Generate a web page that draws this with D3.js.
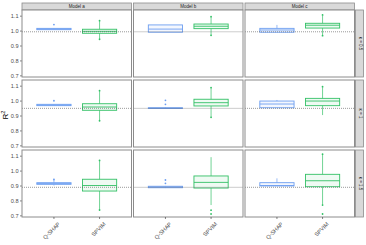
<!DOCTYPE html>
<html>
<head>
<meta charset="utf-8">
<script src="https://cdn.jsdelivr.net/npm/d3@7"></script>
<style>
  body { margin: 0; background: #fff; }
  svg text { font-family: "Liberation Sans", Arial, sans-serif; }
</style>
</head>
<body>
<svg id="chart" width="366" height="245"></svg>
<script>
const methods = ["Q-SHAP", "SPVIM"];
const models = ["Model a", "Model b", "Model c"];
const rowLabels = ["κ = 0.5", "κ = 1", "κ = 1.5"];
const yTicks = [0.7, 0.8, 0.9, 1.0, 1.1];
const refLines = [0.992, 0.948, 0.888];

// [lower whisker, q1, median, q3, upper whisker], rows x cols
const qshapStats = [
  [[1.004, 1.006, 1.010, 1.015, 1.017], [0.989, 0.989, 1.010, 1.038, 1.038], [0.989, 0.989, 1.004, 1.015, 1.038]],
  [[0.964, 0.966, 0.970, 0.975, 0.977], [0.946, 0.947, 0.949, 0.952, 0.954], [0.952, 0.952, 0.977, 0.997, 1.004]],
  [[0.900, 0.908, 0.913, 0.919, 0.948], [0.883, 0.885, 0.890, 0.895, 0.897], [0.897, 0.897, 0.900, 0.919, 0.948]]
];
const spvimStats = [
  [[0.945, 0.982, 0.995, 1.009, 1.062], [0.970, 1.013, 1.029, 1.044, 1.090], [0.968, 1.017, 1.036, 1.049, 1.102]],
  [[0.868, 0.935, 0.957, 0.979, 1.062], [0.890, 0.964, 0.986, 1.009, 1.085], [0.903, 0.966, 0.997, 1.015, 1.090]],
  [[0.740, 0.863, 0.900, 0.942, 1.068], [0.769, 0.883, 0.921, 0.964, 1.090], [0.769, 0.892, 0.932, 0.975, 1.105]]
];
const qshapOutliers = [
  [[1.040], [], []],
  [[0.999], [1.002, 0.975], []],
  [[0.940], [0.937, 0.915], []]
];
const spvimOutliers = [
  [[1.066, 0.942], [1.093, 0.968], [1.105, 0.966]],
  [[1.066, 0.865], [1.087, 0.888], [1.093]],
  [[1.068, 0.736], [0.735, 0.709], [1.110, 0.769, 0.709]]
];

const colors = { "Q-SHAP": "#6d9ef0", "SPVIM": "#33c066" };

const svg = d3.select("#chart");
const left = 22, pw = 109.5, gap = 2;
const rowTops = [10, 80, 150], ph = 67;
const grey = "#8c8c8c";

const y = d3.scaleLinear().domain([0.689, 1.138]).range([ph, 0]);
const x = d3.scaleBand().domain(methods).range([0, pw]).paddingOuter(0.2).paddingInner(0);
const boxW = x.bandwidth() * 0.75;

// top strips
models.forEach((m, c) => {
  const gx = left + c * (pw + gap);
  svg.append("rect").attr("x", gx).attr("y", 3).attr("width", pw).attr("height", 7)
    .attr("fill", "#d9d9d9").attr("stroke", grey).attr("stroke-width", 0.8);
  svg.append("text").attr("x", gx + pw / 2).attr("y", 8.3).attr("text-anchor", "middle")
    .attr("font-size", 4.5).attr("fill", "#1a1a1a").text(m);
});

rowTops.forEach((top, r) => {
  // right strip
  const sx = left + 3 * pw + 2 * gap + 1;
  svg.append("rect").attr("x", sx).attr("y", top).attr("width", 8).attr("height", ph)
    .attr("fill", "#d9d9d9").attr("stroke", grey).attr("stroke-width", 0.8);
  svg.append("text").attr("transform", `translate(${sx + 3},${top + ph / 2}) rotate(90)`)
    .attr("text-anchor", "middle").attr("font-size", 4.5).attr("fill", "#1a1a1a").text(rowLabels[r]);

  // y axis
  const ya = svg.append("g").attr("transform", `translate(${left},${top})`)
    .call(d3.axisLeft(y).tickValues(yTicks).tickFormat(d3.format(".1f")).tickSize(2).tickPadding(1.5));
  ya.select(".domain").remove();
  ya.selectAll("line").attr("stroke", "#333").attr("stroke-width", 0.6);
  ya.selectAll("text").attr("font-size", 5.6).attr("fill", "#4d4d4d").attr("font-family", "Liberation Sans, Arial, sans-serif");

  models.forEach((m, c) => {
    const g = svg.append("g").attr("transform", `translate(${left + c * (pw + gap)},${top})`);
    g.append("rect").attr("width", pw).attr("height", ph).attr("fill", "#fff");

    methods.forEach((meth, k) => {
      const s = (k === 0 ? qshapStats : spvimStats)[r][c];
      const outs = (k === 0 ? qshapOutliers : spvimOutliers)[r][c];
      const cx = x(meth) + x.bandwidth() / 2;
      const col = colors[meth];
      g.append("line").attr("x1", cx).attr("x2", cx).attr("y1", y(s[4])).attr("y2", y(s[3]))
        .attr("stroke", col).attr("stroke-width", 0.7);
      g.append("line").attr("x1", cx).attr("x2", cx).attr("y1", y(s[1])).attr("y2", y(s[0]))
        .attr("stroke", col).attr("stroke-width", 0.7);
      g.append("rect").attr("x", cx - boxW / 2).attr("y", y(s[3]))
        .attr("width", boxW).attr("height", Math.max(0.5, y(s[1]) - y(s[3])))
        .attr("fill", col).attr("fill-opacity", 0.08).attr("stroke", col).attr("stroke-width", 0.9);
      g.append("line").attr("x1", cx - boxW / 2).attr("x2", cx + boxW / 2)
        .attr("y1", y(s[2])).attr("y2", y(s[2])).attr("stroke", col).attr("stroke-width", 0.9);
      g.selectAll(null).data(outs).join("circle")
        .attr("cx", cx).attr("cy", d => y(d)).attr("r", 0.9).attr("fill", col);
    });

    g.append("line").attr("x1", 0).attr("x2", pw).attr("y1", y(refLines[r])).attr("y2", y(refLines[r]))
      .attr("stroke", "#555").attr("stroke-width", 0.6).attr("stroke-dasharray", "1,1");

    g.append("rect").attr("width", pw).attr("height", ph).attr("fill", "none")
      .attr("stroke", grey).attr("stroke-width", 1);

    if (r === 2) {
      const xa = g.append("g").attr("transform", `translate(0,${ph})`)
        .call(d3.axisBottom(x).tickSize(2).tickPadding(1));
      xa.select(".domain").remove();
      xa.selectAll("line").attr("stroke", "#333").attr("stroke-width", 0.6);
      xa.selectAll("text").attr("font-size", 5.6).attr("fill", "#4d4d4d")
        .attr("font-family", "Liberation Sans, Arial, sans-serif")
        .attr("text-anchor", "end").attr("dy", "0.6em")
        .attr("transform", "translate(2,3) rotate(-45)");
    }
  });
});

svg.append("text").attr("transform", "translate(8,115) rotate(-90)")
  .attr("text-anchor", "middle").attr("font-size", 8).attr("fill", "#000")
  .html("R<tspan dy='-3' font-size='5.5'>2</tspan>");
</script>
</body>
</html>
